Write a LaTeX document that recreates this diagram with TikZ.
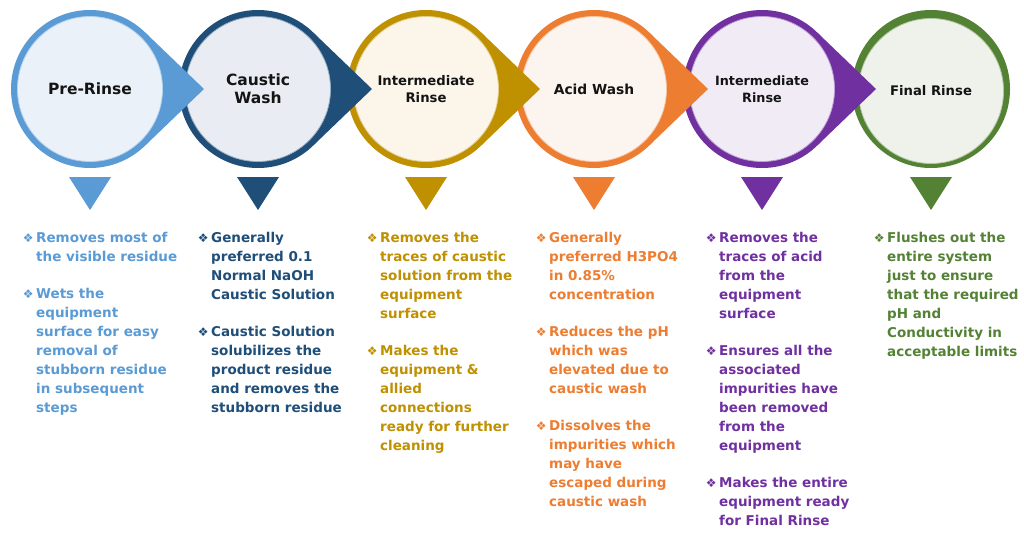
\documentclass[tikz,border=0pt]{standalone}
\usepackage{fontspec}
\setmainfont{DejaVu Sans}
\definecolor{cA}{HTML}{5B9BD5}\definecolor{fA}{HTML}{EBF1F9}
\definecolor{cB}{HTML}{1F4E79}\definecolor{fB}{HTML}{E9EDF3}
\definecolor{cC}{HTML}{BF9000}\definecolor{fC}{HTML}{FBF5EA}
\definecolor{cD}{HTML}{ED7D31}\definecolor{fD}{HTML}{FCF4EE}
\definecolor{cE}{HTML}{7030A0}\definecolor{fE}{HTML}{F1EBF6}
\definecolor{cF}{HTML}{548235}\definecolor{fF}{HTML}{EEF2EB}
\definecolor{ttl}{HTML}{141414}
\newcommand\stagering[2]{%
  \fill[#2] (#1,89) circle[radius=79];
  \fill[#2] (#1-21,177) -- (#1+21,177) -- (#1,210) -- cycle;
}
\newcommand\stagetip[2]{%
  \fill[#2] (#1+114,89) -- (#1+55.2,89-56.5) -- (#1+55.2,89+56.5) -- cycle;
}
\newcommand\bul{\llap{{\fontsize{12}{12}\selectfont ❖}\hspace{2.5pt}}}
\tikzset{
  inner/.style={circle, minimum size=145pt, inner sep=0pt, line width=0.8pt, text=ttl, align=center},
  list/.style={anchor=north west, inner sep=0pt, align=left, font=\bfseries\fontsize{13.5}{19}\selectfont},
}
\begin{document}
\begin{tikzpicture}[x=1pt,y=-1pt]
\fill[white] (0,0) rectangle (1024,535);
\useasboundingbox (0,0) rectangle (1024,535);
% stages drawn right to left so each tip lies over the next circle
\stagering{931}{cF}
\node[inner, fill=fF, draw=white!55!cF, font=\bfseries\fontsize{13.2}{17}\selectfont] (s6) at (931,91) {Final Rinse};
\stagering{762}{cE}\stagetip{762}{cE}
\node[inner, fill=fE, draw=white!55!cE, font=\bfseries\fontsize{12.8}{16.5}\selectfont] (s5) at (762,89) {Intermediate\\Rinse};
\stagering{594}{cD}\stagetip{594}{cD}
\node[inner, fill=fD, draw=white!55!cD, font=\bfseries\fontsize{13.8}{17}\selectfont] (s4) at (594,89) {Acid Wash};
\stagering{426}{cC}\stagetip{426}{cC}
\node[inner, fill=fC, draw=white!55!cC, font=\bfseries\fontsize{13.2}{17}\selectfont] (s3) at (426,89) {Intermediate\\Rinse};
\stagering{258}{cB}\stagetip{258}{cB}
\node[inner, fill=fB, draw=white!55!cB, font=\bfseries\fontsize{15.5}{18}\selectfont] (s2) at (258,89) {Caustic\\Wash};
\stagering{90}{cA}\stagetip{90}{cA}
\node[inner, fill=fA, draw=white!55!cA, font=\bfseries\fontsize{15.5}{18}\selectfont] (s1) at (90,89) {Pre-Rinse};

% descriptions
\node[list, text=cA] (t1) at (36,231.7) {\bul Removes most of\\the visible residue\\[18pt]\bul Wets the\\equipment\\surface for easy\\removal of\\stubborn residue\\in subsequent\\steps};
\node[list, text=cB] (t2) at (211,231.7) {\bul Generally\\preferred 0.1\\Normal NaOH\\Caustic Solution\\[18pt]\bul Caustic Solution\\solubilizes the\\product residue\\and removes the\\stubborn residue};
\node[list, text=cC] (t3) at (380,231.7) {\bul Removes the\\traces of caustic\\solution from the\\equipment\\surface\\[18pt]\bul Makes the\\equipment \&\\allied\\connections\\ready for further\\cleaning};
\node[list, text=cD] (t4) at (549,231.7) {\bul Generally\\preferred H3PO4\\in 0.85\%\\concentration\\[18pt]\bul Reduces the pH\\which was\\elevated due to\\caustic wash\\[18pt]\bul Dissolves the\\impurities which\\may have\\escaped during\\caustic wash};
\node[list, text=cE] (t5) at (719,231.7) {\bul Removes the\\traces of acid\\from the\\equipment\\surface\\[18pt]\bul Ensures all the\\associated\\impurities have\\been removed\\from the\\equipment\\[18pt]\bul Makes the entire\\equipment ready\\for Final Rinse};
\node[list, text=cF] (t6) at (887,231.7) {\bul Flushes out the\\entire system\\just to ensure\\that the required\\pH and\\Conductivity in\\acceptable limits};
\end{tikzpicture}
\end{document}
